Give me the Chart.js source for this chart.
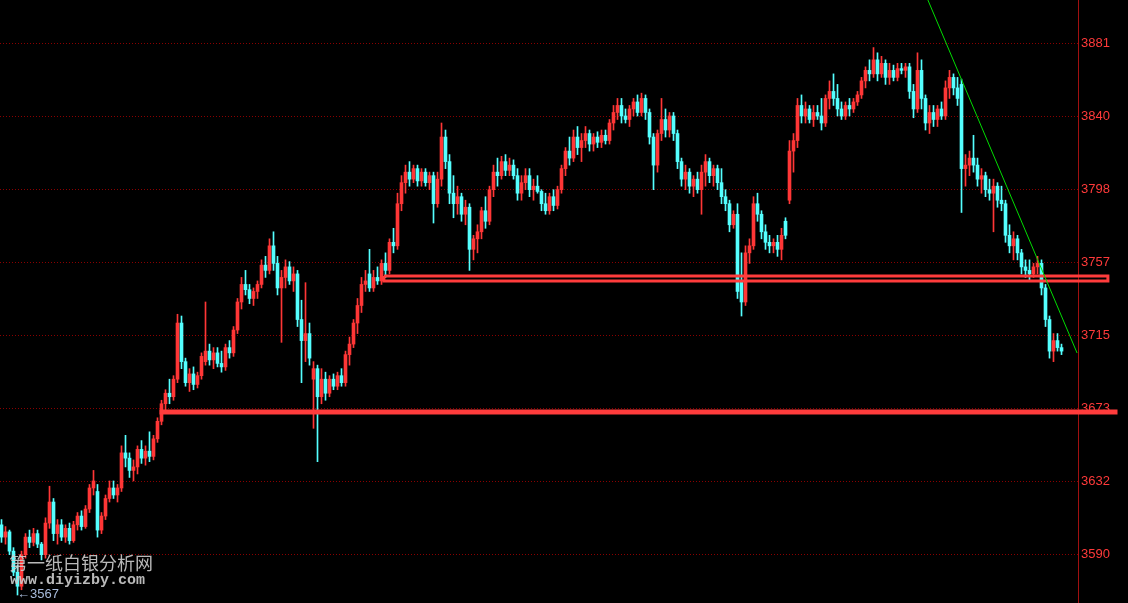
<!DOCTYPE html>
<html>
<head>
<meta charset="utf-8">
<script src="https://cdn.jsdelivr.net/npm/chart.js@4.4.1/dist/chart.umd.min.js"></script>
<style>
  html, body { margin: 0; padding: 0; background: #000; }
  #wrap { position: relative; width: 1128px; height: 603px; overflow: hidden; }
  #chart { position: absolute; left: 0; top: 0; }
  .mark { position: absolute; white-space: nowrap; pointer-events: none; }
  #wm-cn { left: 9px; top: 549px; font: 18px "Noto Sans CJK SC", sans-serif; color: rgba(205, 205, 205, 0.9); }
  #wm-url { left: 10px; top: 572px; font: bold 15px "Liberation Mono", "DejaVu Sans Mono", monospace; color: rgba(205, 205, 205, 0.9); }
  #low-tag { left: 17px; top: 586px; font: 13px "Liberation Sans", Arial, sans-serif; color: #a9bcdc; }
</style>
</head>
<body>
<div id="wrap">
  <canvas id="chart" width="1128" height="603"></canvas>
  <div class="mark" id="wm-cn">第一纸白银分析网</div>
  <div class="mark" id="wm-url">www.diyizby.com</div>
  <div class="mark" id="low-tag">←3567</div>
</div>
<script>
// --- candle data (one candle per step) ---
const opens = [
  3607,3600,3603,3592,3580,3572,3590,3600,3597,3602,
  3596,3590,3608,3620,3602,3607,3600,3605,3598,3607,
  3612,3606,3616,3628,3626,3604,3612,3622,3628,3624,
  3628,3648,3645,3638,3640,3650,3645,3649,3646,3656,
  3666,3676,3682,3680,3690,3722,3700,3688,3693,3687,
  3692,3700,3706,3701,3705,3699,3697,3708,3705,3718,
  3734,3744,3741,3736,3740,3744,3755,3752,3766,3756,
  3742,3748,3754,3746,3750,3724,3712,3716,3690,3696,
  3680,3690,3682,3690,3686,3692,3688,3704,3710,3722,
  3732,3744,3750,3742,3748,3746,3756,3752,3768,3766,
  3790,3802,3808,3804,3810,3803,3808,3802,3806,3790,
  3804,3828,3814,3796,3790,3794,3784,3788,3764,3770,
  3774,3786,3780,3798,3808,3806,3814,3809,3812,3806,
  3796,3802,3806,3798,3800,3797,3790,3786,3794,3789,
  3798,3810,3820,3816,3828,3822,3826,3830,3824,3828,
  3825,3829,3826,3836,3842,3846,3840,3838,3844,3848,
  3842,3850,3842,3828,3812,3830,3838,3832,3840,3830,
  3814,3804,3808,3800,3804,3798,3808,3814,3806,3810,
  3802,3794,3790,3778,3784,3746,3734,3762,3766,3790,
  3784,3774,3768,3766,3768,3764,3780,3792,3820,3826,
  3846,3840,3844,3838,3842,3840,3836,3850,3854,3850,
  3844,3840,3846,3844,3848,3852,3860,3866,3864,3872,
  3864,3870,3862,3866,3862,3867,3866,3868,3854,3844,
  3866,3850,3836,3842,3838,3844,3840,3856,3862,3856,
  3858,3810,3812,3816,3812,3804,3806,3798,3796,3800,
  3792,3790,3772,3766,3770,3762,3754,3752,3750,3754,
  3756,3742,3724,3706,3712,3708
];
const highs = [
  3610,3606,3604,3594,3584,3592,3602,3604,3605,3604,
  3597,3611,3629,3622,3610,3610,3607,3608,3609,3614,
  3615,3618,3630,3638,3630,3614,3624,3632,3632,3630,
  3652,3658,3648,3644,3652,3655,3652,3660,3658,3668,
  3678,3684,3690,3692,3727,3726,3702,3696,3697,3694,
  3705,3734,3710,3708,3708,3706,3710,3712,3720,3736,
  3748,3752,3744,3742,3746,3758,3760,3770,3774,3760,
  3752,3758,3757,3754,3752,3735,3745,3722,3700,3698,
  3696,3694,3692,3693,3694,3696,3706,3714,3724,3736,
  3748,3752,3764,3752,3754,3758,3762,3770,3776,3796,
  3806,3812,3814,3812,3812,3810,3810,3808,3808,3808,
  3836,3832,3818,3806,3800,3796,3792,3790,3772,3778,
  3788,3794,3800,3812,3816,3817,3818,3816,3815,3810,
  3806,3810,3810,3804,3806,3798,3796,3796,3798,3800,
  3812,3822,3828,3832,3834,3830,3834,3832,3830,3831,
  3832,3832,3838,3846,3850,3850,3844,3846,3850,3852,
  3853,3852,3844,3830,3832,3850,3844,3842,3842,3832,
  3816,3812,3810,3806,3808,3812,3818,3816,3812,3812,
  3810,3798,3792,3786,3790,3762,3766,3770,3794,3796,
  3786,3778,3772,3770,3772,3776,3782,3826,3830,3850,
  3852,3848,3846,3846,3846,3850,3852,3860,3864,3858,
  3848,3848,3850,3850,3854,3862,3868,3872,3879,3876,
  3874,3872,3870,3869,3870,3870,3870,3870,3858,3876,
  3872,3852,3846,3846,3846,3848,3860,3866,3864,3862,
  3861,3818,3820,3829,3816,3810,3808,3804,3804,3802,
  3800,3792,3778,3774,3772,3764,3758,3758,3756,3760,
  3758,3744,3726,3716,3716,3710
];
const lows = [
  3597,3596,3590,3578,3567,3570,3588,3594,3595,3594,
  3587,3588,3605,3598,3596,3598,3597,3596,3597,3604,
  3604,3605,3614,3624,3600,3602,3610,3620,3622,3620,
  3626,3640,3634,3632,3636,3642,3641,3643,3644,3654,
  3664,3672,3676,3678,3688,3696,3686,3683,3684,3685,
  3690,3698,3698,3696,3697,3694,3695,3702,3703,3716,
  3730,3738,3733,3732,3736,3742,3748,3750,3752,3738,
  3711,3742,3744,3740,3720,3688,3700,3698,3662,3643,
  3676,3678,3680,3684,3684,3686,3686,3698,3708,3716,
  3728,3740,3740,3740,3744,3744,3748,3750,3762,3764,
  3786,3796,3800,3802,3800,3800,3800,3798,3779,3788,
  3800,3810,3790,3782,3784,3780,3778,3752,3758,3762,
  3770,3776,3778,3794,3800,3804,3806,3806,3804,3792,
  3792,3798,3794,3792,3796,3786,3784,3784,3786,3787,
  3796,3806,3812,3814,3818,3814,3822,3820,3820,3822,
  3822,3824,3824,3832,3838,3836,3836,3834,3840,3840,
  3840,3838,3824,3798,3808,3826,3828,3828,3826,3810,
  3800,3798,3796,3794,3796,3784,3800,3802,3800,3798,
  3790,3786,3774,3776,3736,3726,3732,3756,3764,3780,
  3770,3764,3762,3762,3760,3758,3770,3790,3808,3822,
  3836,3836,3836,3834,3838,3832,3834,3844,3846,3840,
  3838,3838,3840,3842,3846,3850,3856,3860,3862,3860,
  3862,3858,3858,3860,3860,3864,3862,3850,3839,3842,
  3844,3832,3830,3834,3834,3838,3838,3850,3852,3846,
  3785,3800,3806,3808,3800,3796,3794,3792,3774,3788,
  3786,3768,3762,3758,3758,3750,3748,3746,3748,3750,
  3738,3720,3702,3700,3706,3704
];
const closes = [
  3600,3603,3592,3580,3572,3590,3600,3597,3602,3596,
  3590,3608,3620,3602,3607,3600,3605,3598,3607,3612,
  3606,3616,3628,3632,3604,3612,3622,3628,3624,3628,
  3648,3645,3638,3640,3650,3645,3649,3646,3656,3666,
  3676,3682,3680,3690,3722,3700,3688,3693,3687,3692,
  3703,3706,3701,3705,3699,3697,3708,3705,3718,3734,
  3744,3741,3736,3740,3744,3755,3752,3766,3756,3742,
  3748,3754,3746,3750,3724,3712,3716,3702,3696,3680,
  3690,3682,3690,3686,3692,3688,3704,3710,3722,3732,
  3744,3746,3742,3748,3746,3756,3752,3768,3766,3790,
  3802,3808,3804,3810,3803,3808,3802,3806,3790,3804,
  3828,3814,3796,3790,3794,3784,3788,3764,3770,3774,
  3786,3780,3798,3808,3806,3814,3809,3812,3806,3796,
  3802,3806,3798,3800,3797,3790,3786,3794,3789,3798,
  3810,3820,3816,3828,3822,3826,3830,3824,3828,3825,
  3829,3826,3836,3842,3846,3840,3838,3844,3848,3842,
  3850,3842,3828,3812,3830,3838,3832,3840,3830,3814,
  3804,3808,3800,3804,3798,3808,3814,3806,3810,3802,
  3794,3790,3778,3784,3740,3734,3762,3766,3790,3784,
  3774,3768,3766,3768,3764,3772,3772,3820,3826,3846,
  3840,3844,3838,3842,3840,3836,3850,3854,3850,3844,
  3840,3846,3844,3848,3852,3860,3866,3864,3872,3864,
  3870,3862,3866,3862,3867,3866,3868,3854,3844,3866,
  3850,3836,3842,3838,3844,3840,3856,3862,3856,3850,
  3810,3812,3816,3812,3804,3806,3798,3796,3800,3792,
  3790,3772,3766,3770,3762,3754,3752,3750,3754,3756,
  3742,3724,3706,3712,3708,3706
];

// price axis ticks (labels shown rounded)
const yTicks = [3590.2, 3631.8, 3673.4, 3715.0, 3756.6, 3798.2, 3839.8, 3881.4];

// drawn lines: [candle index, price] pairs
const zoneBox = [[95.6, 3748.8], [276.6, 3748.8], [276.6, 3746.0], [95.6, 3746.0], [95.6, 3748.8]];
const supportLine = [[39.5, 3671.3], [279, 3671.3]];
const trendLine = [[231.6, 3906.1], [268.9, 3704.9]];

const UP = '#ff3636';
const DOWN = '#54ffff';
const LINE_RED = '#ff3c3c';

function initChart() {
    const ctx = document.getElementById('chart').getContext('2d');
    const idx = closes.map((_, i) => i);
    const colors = idx.map(i => closes[i] >= opens[i] ? UP : DOWN);
    const toPts = arr => arr.map(p => ({ x: p[0], y: p[1] }));

    const lineDefaults = {
        type: 'line',
        pointRadius: 0,
        fill: false,
        tension: 0,
        clip: false,
        order: 0
    };

    new Chart(ctx, {
        type: 'bar',
        data: {
            datasets: [
                { ...lineDefaults, data: toPts(trendLine), borderColor: '#00dd00', borderWidth: 1 },
                { ...lineDefaults, data: toPts(zoneBox), borderColor: LINE_RED, borderWidth: 3 },
                { ...lineDefaults, data: toPts(supportLine), borderColor: LINE_RED, borderWidth: 5 },
                {
                    // bodies
                    data: idx.map(i => ({ x: i, y: [opens[i], closes[i]] })),
                    backgroundColor: colors,
                    borderWidth: 0,
                    barThickness: 3,
                    minBarLength: 1,
                    grouped: false,
                    order: 1
                },
                {
                    // wicks
                    data: idx.map(i => ({ x: i, y: [lows[i], highs[i]] })),
                    backgroundColor: colors,
                    borderWidth: 0,
                    barThickness: 1,
                    grouped: false,
                    order: 2
                }
            ]
        },
        options: {
            responsive: false,
            devicePixelRatio: 1,
            animation: false,
            events: [],
            layout: { padding: 0 },
            scales: {
                x: {
                    type: 'linear',
                    offset: false,
                    min: -0.375,
                    max: 269.125,
                    display: false
                },
                y: {
                    position: 'right',
                    min: 3562.45,
                    max: 3906.1,
                    afterBuildTicks: scale => {
                        scale.ticks = yTicks.map(v => ({ value: v }));
                    },
                    afterFit: scale => {
                        scale.width = 50;
                        scale.paddingTop = 0;
                        scale.paddingBottom = 0;
                    },
                    grid: { color: '#8a0000', lineWidth: 1, drawTicks: false },
                    border: { display: true, color: '#a01010', width: 1, dash: [1, 2] },
                    ticks: {
                        color: '#ff3a3a',
                        padding: 3,
                        font: { family: "'Liberation Sans', Arial, sans-serif", size: 13 },
                        callback: v => Math.round(v)
                    }
                }
            },
            plugins: {
                legend: { display: false },
                tooltip: { enabled: false }
            }
        }
    });
}

initChart();
</script>
</body>
</html>
